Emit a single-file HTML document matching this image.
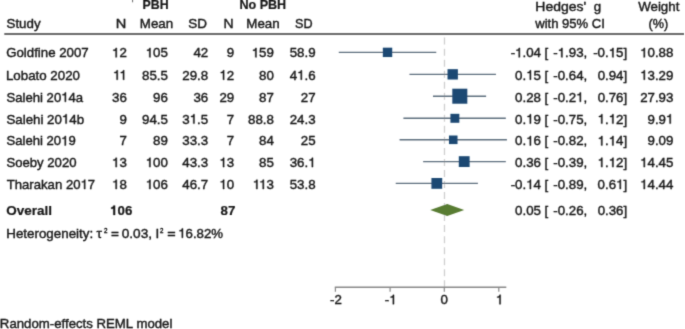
<!DOCTYPE html><html><head><meta charset="utf-8"><style>
html,body{margin:0;padding:0;background:#fff;width:685px;height:329px;overflow:hidden}svg{display:block}
text{font-family:"Liberation Sans",sans-serif;font-size:13.30px;fill:#161616;stroke:#161616;stroke-width:0.40px}.b{font-weight:bold;stroke-width:0.20px}.h{fill-opacity:0;stroke-opacity:0}path.o{fill:#161616;stroke:#161616;stroke-width:0.40px}path.ob{stroke-width:0.20px}
</style></head><body>
<svg width="685" height="329" viewBox="0 0 685 329">
<defs><filter id="bl" x="0" y="0" width="685" height="329" filterUnits="userSpaceOnUse"><feConvolveMatrix order="3" kernelMatrix="0.0192 0.1001 0.0192 0.1001 0.5228 0.1001 0.0192 0.1001 0.0192" divisor="1" edgeMode="duplicate"/></filter></defs>
<rect width="685" height="329" fill="#fff"/><g filter="url(#bl)">
<line x1="4.3" y1="33.9" x2="684" y2="33.9" stroke="#6a6a6a" stroke-width="2.0"/>
<line x1="444.48" y1="37.6" x2="444.48" y2="287" stroke="#cfcfcf" stroke-width="1.3" stroke-dasharray="7 4.03"/>
<line x1="338.77" y1="52.35" x2="436.26" y2="52.35" stroke="#5d6e7e" stroke-width="1.4"/>
<rect x="382.84" y="47.67" width="9.37" height="9.37" fill="#1a4873"/>
<line x1="409.43" y1="74.35" x2="495.96" y2="74.35" stroke="#5d6e7e" stroke-width="1.4"/>
<rect x="447.52" y="69.17" width="10.35" height="10.35" fill="#1a4873"/>
<line x1="432.98" y1="96.20" x2="486.11" y2="96.20" stroke="#5d6e7e" stroke-width="1.4"/>
<rect x="452.31" y="88.70" width="15.01" height="15.01" fill="#1a4873"/>
<line x1="403.40" y1="118.30" x2="505.82" y2="118.30" stroke="#5d6e7e" stroke-width="1.4"/>
<rect x="450.42" y="113.83" width="8.94" height="8.94" fill="#1a4873"/>
<line x1="399.57" y1="139.80" x2="506.92" y2="139.80" stroke="#5d6e7e" stroke-width="1.4"/>
<rect x="448.96" y="135.52" width="8.56" height="8.56" fill="#1a4873"/>
<line x1="423.12" y1="161.60" x2="505.82" y2="161.60" stroke="#5d6e7e" stroke-width="1.4"/>
<rect x="458.80" y="156.20" width="10.80" height="10.80" fill="#1a4873"/>
<line x1="395.73" y1="183.40" x2="477.89" y2="183.40" stroke="#5d6e7e" stroke-width="1.4"/>
<rect x="431.42" y="178.00" width="10.79" height="10.79" fill="#1a4873"/>
<polygon points="430.24,210.00 447.22,204.00 464.20,210.00 447.22,216.00" fill="#587c33"/>
<line x1="334.80" y1="287.20" x2="506.30" y2="287.20" stroke="#888" stroke-width="1.4"/>
<line x1="335.40" y1="287.20" x2="335.40" y2="291.80" stroke="#888" stroke-width="1.2"/>
<line x1="390.10" y1="287.20" x2="390.10" y2="291.80" stroke="#888" stroke-width="1.2"/>
<line x1="444.30" y1="287.20" x2="444.30" y2="291.80" stroke="#888" stroke-width="1.2"/>
<line x1="498.80" y1="287.20" x2="498.80" y2="291.80" stroke="#888" stroke-width="1.2"/>
<rect x="132" y="0" width="1.1" height="2.3" fill="#777"/>
<text class="b" x="142.604" y="8.800" textLength="26.065" lengthAdjust="spacingAndGlyphs">PBH</text>
<text class="b" x="239.391" y="8.800" textLength="46.819" lengthAdjust="spacingAndGlyphs">No PBH</text>
<text x="6.550" y="28.000">Study</text>
<text x="115.775" y="28.000" textLength="10.570" lengthAdjust="spacingAndGlyphs">N</text>
<text x="139.848" y="28.000" textLength="33.370" lengthAdjust="spacingAndGlyphs">Mean</text>
<text x="188.246" y="28.000" textLength="18.745" lengthAdjust="spacingAndGlyphs">SD</text>
<text x="223.613" y="28.000" textLength="10.090" lengthAdjust="spacingAndGlyphs">N</text>
<text x="246.348" y="28.000" textLength="33.370" lengthAdjust="spacingAndGlyphs">Mean</text>
<text x="295.063" y="28.000" textLength="17.495" lengthAdjust="spacingAndGlyphs">SD</text>
<text x="535.311" y="10.800" textLength="50.883" lengthAdjust="spacingAndGlyphs">Hedges'</text>
<text x="593.850" y="10.800">g</text>
<text x="535.246" y="28.200" textLength="69.691" lengthAdjust="spacingAndGlyphs">with 95% CI</text>
<text x="638.151" y="10.800" textLength="41.255" lengthAdjust="spacingAndGlyphs">Weight</text>
<text x="648.423" y="28.200" textLength="19.733" lengthAdjust="spacingAndGlyphs">(%)</text>
<text x="6.202" y="57.300" textLength="82.559" lengthAdjust="spacingAndGlyphs">Goldfine 2007</text>
<text x="111.994" y="57.300"><tspan class="h">1</tspan>2</text>
<path class="o" vector-effect="non-scaling-stroke" transform="translate(111.994 57.300) scale(0.01330 -0.01330)" d="M359 0L271 0L271 500L101 500L101 563C213 571 261 600 285 703L359 703Z"/>
<text x="145.703" y="57.300"><tspan class="h">1</tspan>05</text>
<path class="o" vector-effect="non-scaling-stroke" transform="translate(145.703 57.300) scale(0.01330 -0.01330)" d="M359 0L271 0L271 500L101 500L101 563C213 571 261 600 285 703L359 703Z"/>
<text x="193.409" y="57.300">42</text>
<text x="226.800" y="57.300">9</text>
<text x="251.703" y="57.300"><tspan class="h">1</tspan>59</text>
<path class="o" vector-effect="non-scaling-stroke" transform="translate(251.703 57.300) scale(0.01330 -0.01330)" d="M359 0L271 0L271 500L101 500L101 563C213 571 261 600 285 703L359 703Z"/>
<text x="289.716" y="57.300">58.9</text>
<text x="510.663" y="57.300">-<tspan class="h">1</tspan>.04</text>
<path class="o" vector-effect="non-scaling-stroke" transform="translate(515.100 57.300) scale(0.01330 -0.01330)" d="M359 0L271 0L271 500L101 500L101 563C213 571 261 600 285 703L359 703Z"/>
<text x="544.550" y="57.300">[</text>
<text x="553.222" y="57.300">-<tspan class="h">1</tspan>.93,</text>
<path class="o" vector-effect="non-scaling-stroke" transform="translate(557.659 57.300) scale(0.01330 -0.01330)" d="M359 0L271 0L271 500L101 500L101 563C213 571 261 600 285 703L359 703Z"/>
<text x="593.172" y="57.300">-0.<tspan class="h">1</tspan>5]</text>
<path class="o" vector-effect="non-scaling-stroke" transform="translate(608.703 57.300) scale(0.01330 -0.01330)" d="M359 0L271 0L271 500L101 500L101 563C213 571 261 600 285 703L359 703Z"/>
<text x="640.109" y="57.300"><tspan class="h">1</tspan>0.88</text>
<path class="o" vector-effect="non-scaling-stroke" transform="translate(640.109 57.300) scale(0.01330 -0.01330)" d="M359 0L271 0L271 500L101 500L101 563C213 571 261 600 285 703L359 703Z"/>
<text x="5.949" y="79.700" textLength="74.054" lengthAdjust="spacingAndGlyphs">Lobato 2020</text>
<text x="112.978" y="79.700"><tspan class="h">1</tspan><tspan class="h">1</tspan></text>
<path class="o" vector-effect="non-scaling-stroke" transform="translate(112.978 79.700) scale(0.01330 -0.01330)" d="M359 0L271 0L271 500L101 500L101 563C213 571 261 600 285 703L359 703Z"/>
<path class="o" vector-effect="non-scaling-stroke" transform="translate(119.400 79.700) scale(0.01330 -0.01330)" d="M359 0L271 0L271 500L101 500L101 563C213 571 261 600 285 703L359 703Z"/>
<text x="142.016" y="79.700">85.5</text>
<text x="182.316" y="79.700">29.8</text>
<text x="219.394" y="79.700"><tspan class="h">1</tspan>2</text>
<path class="o" vector-effect="non-scaling-stroke" transform="translate(219.394 79.700) scale(0.01330 -0.01330)" d="M359 0L271 0L271 500L101 500L101 563C213 571 261 600 285 703L359 703Z"/>
<text x="259.109" y="79.700">80</text>
<text x="289.700" y="79.700">4<tspan class="h">1</tspan>.6</text>
<path class="o" vector-effect="non-scaling-stroke" transform="translate(297.106 79.700) scale(0.01330 -0.01330)" d="M359 0L271 0L271 500L101 500L101 563C213 571 261 600 285 703L359 703Z"/>
<text x="515.100" y="79.700">0.<tspan class="h">1</tspan>5</text>
<path class="o" vector-effect="non-scaling-stroke" transform="translate(526.194 79.700) scale(0.01330 -0.01330)" d="M359 0L271 0L271 500L101 500L101 563C213 571 261 600 285 703L359 703Z"/>
<text x="544.550" y="79.700">[</text>
<text x="553.237" y="79.700">-0.64,</text>
<text x="597.625" y="79.700">0.94]</text>
<text x="640.109" y="79.700"><tspan class="h">1</tspan>3.29</text>
<path class="o" vector-effect="non-scaling-stroke" transform="translate(640.109 79.700) scale(0.01330 -0.01330)" d="M359 0L271 0L271 500L101 500L101 563C213 571 261 600 285 703L359 703Z"/>
<text x="6.453" y="101.800" textLength="76.707" lengthAdjust="spacingAndGlyphs">Salehi 20<tspan class="h">1</tspan>4a</text>
<path class="o" vector-effect="non-scaling-stroke" transform="translate(61.228 101.800) scale(0.01314 -0.01330)" d="M359 0L271 0L271 500L101 500L101 563C213 571 261 600 285 703L359 703Z"/>
<text x="112.009" y="101.800">36</text>
<text x="153.109" y="101.800">96</text>
<text x="193.409" y="101.800">36</text>
<text x="219.409" y="101.800">29</text>
<text x="259.109" y="101.800">87</text>
<text x="300.809" y="101.800">27</text>
<text x="515.116" y="101.800">0.28</text>
<text x="544.550" y="101.800">[</text>
<text x="553.222" y="101.800">-0.2<tspan class="h">1</tspan>,</text>
<path class="o" vector-effect="non-scaling-stroke" transform="translate(576.144 101.800) scale(0.01330 -0.01330)" d="M359 0L271 0L271 500L101 500L101 563C213 571 261 600 285 703L359 703Z"/>
<text x="597.625" y="101.800">0.76]</text>
<text x="640.125" y="101.800">27.93</text>
<text x="6.450" y="123.600">Salehi 20<tspan class="h">1</tspan>4b</text>
<path class="o" vector-effect="non-scaling-stroke" transform="translate(61.903 123.600) scale(0.01330 -0.01330)" d="M359 0L271 0L271 500L101 500L101 563C213 571 261 600 285 703L359 703Z"/>
<text x="119.400" y="123.600">9</text>
<text x="142.016" y="123.600">94.5</text>
<text x="182.300" y="123.600">3<tspan class="h">1</tspan>.5</text>
<path class="o" vector-effect="non-scaling-stroke" transform="translate(189.706 123.600) scale(0.01330 -0.01330)" d="M359 0L271 0L271 500L101 500L101 563C213 571 261 600 285 703L359 703Z"/>
<text x="226.800" y="123.600">7</text>
<text x="248.016" y="123.600">88.8</text>
<text x="289.716" y="123.600">24.3</text>
<text x="515.100" y="123.600">0.<tspan class="h">1</tspan>9</text>
<path class="o" vector-effect="non-scaling-stroke" transform="translate(526.194 123.600) scale(0.01330 -0.01330)" d="M359 0L271 0L271 500L101 500L101 563C213 571 261 600 285 703L359 703Z"/>
<text x="544.550" y="123.600">[</text>
<text x="553.237" y="123.600">-0.75,</text>
<text x="597.594" y="123.600"><tspan class="h">1</tspan>.<tspan class="h">1</tspan>2]</text>
<path class="o" vector-effect="non-scaling-stroke" transform="translate(597.594 123.600) scale(0.01330 -0.01330)" d="M359 0L271 0L271 500L101 500L101 563C213 571 261 600 285 703L359 703Z"/>
<path class="o" vector-effect="non-scaling-stroke" transform="translate(608.703 123.600) scale(0.01330 -0.01330)" d="M359 0L271 0L271 500L101 500L101 563C213 571 261 600 285 703L359 703Z"/>
<text x="647.500" y="123.600">9.9<tspan class="h">1</tspan></text>
<path class="o" vector-effect="non-scaling-stroke" transform="translate(666.000 123.600) scale(0.01330 -0.01330)" d="M359 0L271 0L271 500L101 500L101 563C213 571 261 600 285 703L359 703Z"/>
<text x="6.453" y="145.400" textLength="69.309" lengthAdjust="spacingAndGlyphs">Salehi 20<tspan class="h">1</tspan>9</text>
<path class="o" vector-effect="non-scaling-stroke" transform="translate(61.151 145.400) scale(0.01312 -0.01330)" d="M359 0L271 0L271 500L101 500L101 563C213 571 261 600 285 703L359 703Z"/>
<text x="119.400" y="145.400">7</text>
<text x="153.109" y="145.400">89</text>
<text x="182.316" y="145.400">33.3</text>
<text x="226.800" y="145.400">7</text>
<text x="259.109" y="145.400">84</text>
<text x="300.809" y="145.400">25</text>
<text x="515.100" y="145.400">0.<tspan class="h">1</tspan>6</text>
<path class="o" vector-effect="non-scaling-stroke" transform="translate(526.194 145.400) scale(0.01330 -0.01330)" d="M359 0L271 0L271 500L101 500L101 563C213 571 261 600 285 703L359 703Z"/>
<text x="544.550" y="145.400">[</text>
<text x="553.237" y="145.400">-0.82,</text>
<text x="597.594" y="145.400"><tspan class="h">1</tspan>.<tspan class="h">1</tspan>4]</text>
<path class="o" vector-effect="non-scaling-stroke" transform="translate(597.594 145.400) scale(0.01330 -0.01330)" d="M359 0L271 0L271 500L101 500L101 563C213 571 261 600 285 703L359 703Z"/>
<path class="o" vector-effect="non-scaling-stroke" transform="translate(608.703 145.400) scale(0.01330 -0.01330)" d="M359 0L271 0L271 500L101 500L101 563C213 571 261 600 285 703L359 703Z"/>
<text x="647.516" y="145.400">9.09</text>
<text x="6.453" y="167.100" textLength="70.078" lengthAdjust="spacingAndGlyphs">Soeby 2020</text>
<text x="111.994" y="167.100"><tspan class="h">1</tspan>3</text>
<path class="o" vector-effect="non-scaling-stroke" transform="translate(111.994 167.100) scale(0.01330 -0.01330)" d="M359 0L271 0L271 500L101 500L101 563C213 571 261 600 285 703L359 703Z"/>
<text x="145.703" y="167.100"><tspan class="h">1</tspan>00</text>
<path class="o" vector-effect="non-scaling-stroke" transform="translate(145.703 167.100) scale(0.01330 -0.01330)" d="M359 0L271 0L271 500L101 500L101 563C213 571 261 600 285 703L359 703Z"/>
<text x="182.316" y="167.100">43.3</text>
<text x="219.394" y="167.100"><tspan class="h">1</tspan>3</text>
<path class="o" vector-effect="non-scaling-stroke" transform="translate(219.394 167.100) scale(0.01330 -0.01330)" d="M359 0L271 0L271 500L101 500L101 563C213 571 261 600 285 703L359 703Z"/>
<text x="259.109" y="167.100">85</text>
<text x="289.700" y="167.100">36.<tspan class="h">1</tspan></text>
<path class="o" vector-effect="non-scaling-stroke" transform="translate(308.200 167.100) scale(0.01330 -0.01330)" d="M359 0L271 0L271 500L101 500L101 563C213 571 261 600 285 703L359 703Z"/>
<text x="515.116" y="167.100">0.36</text>
<text x="544.550" y="167.100">[</text>
<text x="553.237" y="167.100">-0.39,</text>
<text x="597.594" y="167.100"><tspan class="h">1</tspan>.<tspan class="h">1</tspan>2]</text>
<path class="o" vector-effect="non-scaling-stroke" transform="translate(597.594 167.100) scale(0.01330 -0.01330)" d="M359 0L271 0L271 500L101 500L101 563C213 571 261 600 285 703L359 703Z"/>
<path class="o" vector-effect="non-scaling-stroke" transform="translate(608.703 167.100) scale(0.01330 -0.01330)" d="M359 0L271 0L271 500L101 500L101 563C213 571 261 600 285 703L359 703Z"/>
<text x="640.109" y="167.100"><tspan class="h">1</tspan>4.45</text>
<path class="o" vector-effect="non-scaling-stroke" transform="translate(640.109 167.100) scale(0.01330 -0.01330)" d="M359 0L271 0L271 500L101 500L101 563C213 571 261 600 285 703L359 703Z"/>
<text x="6.700" y="189.000" textLength="88.479" lengthAdjust="spacingAndGlyphs">Tharakan 20<tspan class="h">1</tspan>7</text>
<path class="o" vector-effect="non-scaling-stroke" transform="translate(80.533 189.000) scale(0.01315 -0.01330)" d="M359 0L271 0L271 500L101 500L101 563C213 571 261 600 285 703L359 703Z"/>
<text x="111.994" y="189.000"><tspan class="h">1</tspan>8</text>
<path class="o" vector-effect="non-scaling-stroke" transform="translate(111.994 189.000) scale(0.01330 -0.01330)" d="M359 0L271 0L271 500L101 500L101 563C213 571 261 600 285 703L359 703Z"/>
<text x="145.703" y="189.000"><tspan class="h">1</tspan>06</text>
<path class="o" vector-effect="non-scaling-stroke" transform="translate(145.703 189.000) scale(0.01330 -0.01330)" d="M359 0L271 0L271 500L101 500L101 563C213 571 261 600 285 703L359 703Z"/>
<text x="182.316" y="189.000">46.7</text>
<text x="219.394" y="189.000"><tspan class="h">1</tspan>0</text>
<path class="o" vector-effect="non-scaling-stroke" transform="translate(219.394 189.000) scale(0.01330 -0.01330)" d="M359 0L271 0L271 500L101 500L101 563C213 571 261 600 285 703L359 703Z"/>
<text x="252.672" y="189.000"><tspan class="h">1</tspan><tspan class="h">1</tspan>3</text>
<path class="o" vector-effect="non-scaling-stroke" transform="translate(252.672 189.000) scale(0.01330 -0.01330)" d="M359 0L271 0L271 500L101 500L101 563C213 571 261 600 285 703L359 703Z"/>
<path class="o" vector-effect="non-scaling-stroke" transform="translate(259.094 189.000) scale(0.01330 -0.01330)" d="M359 0L271 0L271 500L101 500L101 563C213 571 261 600 285 703L359 703Z"/>
<text x="289.716" y="189.000">53.8</text>
<text x="510.663" y="189.000">-0.<tspan class="h">1</tspan>4</text>
<path class="o" vector-effect="non-scaling-stroke" transform="translate(526.194 189.000) scale(0.01330 -0.01330)" d="M359 0L271 0L271 500L101 500L101 563C213 571 261 600 285 703L359 703Z"/>
<text x="544.550" y="189.000">[</text>
<text x="553.237" y="189.000">-0.89,</text>
<text x="597.594" y="189.000">0.6<tspan class="h">1</tspan>]</text>
<path class="o" vector-effect="non-scaling-stroke" transform="translate(616.094 189.000) scale(0.01330 -0.01330)" d="M359 0L271 0L271 500L101 500L101 563C213 571 261 600 285 703L359 703Z"/>
<text x="640.109" y="189.000"><tspan class="h">1</tspan>4.44</text>
<path class="o" vector-effect="non-scaling-stroke" transform="translate(640.109 189.000) scale(0.01330 -0.01330)" d="M359 0L271 0L271 500L101 500L101 563C213 571 261 600 285 703L359 703Z"/>
<text class="b" x="6.193" y="215.000" textLength="45.764" lengthAdjust="spacingAndGlyphs">Overall</text>
<text class="b" x="110.103" y="215.000"><tspan class="h">1</tspan>06</text>
<path class="o ob" vector-effect="non-scaling-stroke" transform="translate(110.103 215.000) scale(0.01330 -0.01330)" d="M378 0L238 0L238 468L69 468L69 570C185 574 233 622 250 710L378 710Z"/>
<text class="b" x="220.509" y="215.000">87</text>
<text x="515.116" y="215.000">0.05</text>
<text x="544.550" y="215.000">[</text>
<text x="553.237" y="215.000">-0.26,</text>
<text x="597.625" y="215.000">0.36]</text>
<text x="6.246" y="237.800" textLength="86.944" lengthAdjust="spacingAndGlyphs">Heterogeneity:</text>
<text x="96.500" y="237.800" textLength="5.457" lengthAdjust="spacingAndGlyphs">τ</text>
<text style="font-size:7.20px" x="103.900" y="233.300" textLength="3.500" lengthAdjust="spacingAndGlyphs">2</text>
<text x="111.089" y="238.100" textLength="7.938" lengthAdjust="spacingAndGlyphs">=</text>
<text x="121.744" y="237.800" textLength="30.305" lengthAdjust="spacingAndGlyphs">0.03,</text>
<text x="155.400" y="237.800">I</text>
<text style="font-size:7.20px" x="160.100" y="233.300" textLength="3.400" lengthAdjust="spacingAndGlyphs">2</text>
<text x="167.259" y="238.100" textLength="8.398" lengthAdjust="spacingAndGlyphs">=</text>
<text x="178.205" y="237.800" textLength="44.904" lengthAdjust="spacingAndGlyphs"><tspan class="h">1</tspan>6.82%</text>
<path class="o" vector-effect="non-scaling-stroke" transform="translate(178.205 237.800) scale(0.01324 -0.01330)" d="M359 0L271 0L271 500L101 500L101 563C213 571 261 600 285 703L359 703Z"/>
<text x="-0.145" y="328.400" textLength="172.512" lengthAdjust="spacingAndGlyphs">Random-effects REML model</text>
<text x="330.075" y="304.200">-2</text>
<text x="384.775" y="304.200">-<tspan class="h">1</tspan></text>
<path class="o" vector-effect="non-scaling-stroke" transform="translate(389.212 304.200) scale(0.01330 -0.01330)" d="M359 0L271 0L271 500L101 500L101 563C213 571 261 600 285 703L359 703Z"/>
<text x="440.600" y="304.200">0</text>
<text x="495.850" y="304.200"><tspan class="h">1</tspan></text>
<path class="o" vector-effect="non-scaling-stroke" transform="translate(495.850 304.200) scale(0.01330 -0.01330)" d="M359 0L271 0L271 500L101 500L101 563C213 571 261 600 285 703L359 703Z"/>
</g></svg></body></html>
